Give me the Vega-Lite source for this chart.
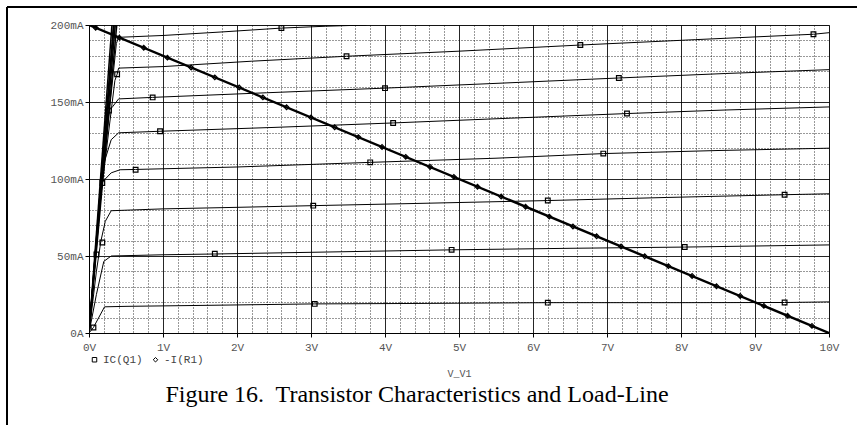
{
  "$schema": "https://vega.github.io/schema/vega-lite/v6.json",
  "width": 740,
  "height": 308,
  "autosize": {"type": "none"},
  "padding": {"left": 89, "top": 25, "right": 28, "bottom": 92},
  "background": "white",
  "config": {"view": {"stroke": "#888", "strokeWidth": 1}},
  "title": {
    "text": "Figure 16.\u00a0 Transistor Characteristics and Load-Line",
    "orient": "bottom",
    "anchor": "middle",
    "font": "Liberation Serif",
    "fontSize": 24,
    "fontWeight": "normal",
    "color": "#000",
    "dx": -42,
    "dy": -43,
    "offset": 0
  },
  "datasets": {
    "curves": [
      {"v": 0, "i": 0, "c": "A"}, {"v": 0.06, "i": 3.6, "c": "A"}, {"v": 0.21, "i": 17, "c": "A"}, {"v": 0.5, "i": 17.3, "c": "A"}, {"v": 1.5, "i": 17.9, "c": "A"}, {"v": 3.05, "i": 18.9, "c": "A"}, {"v": 4.5, "i": 19.2, "c": "A"}, {"v": 6.2, "i": 19.7, "c": "A"}, {"v": 8, "i": 19.7, "c": "A"}, {"v": 9.4, "i": 19.8, "c": "A"}, {"v": 10, "i": 20.2, "c": "A"},
      {"v": 0, "i": 0, "c": "B"}, {"v": 0.1, "i": 25, "c": "B"}, {"v": 0.2, "i": 46.5, "c": "B"}, {"v": 0.3, "i": 50, "c": "B"}, {"v": 1, "i": 50.8, "c": "B"}, {"v": 1.7, "i": 51.3, "c": "B"}, {"v": 3, "i": 52.4, "c": "B"}, {"v": 4.9, "i": 54, "c": "B"}, {"v": 6.5, "i": 55, "c": "B"}, {"v": 8.05, "i": 55.8, "c": "B"}, {"v": 10, "i": 57.2, "c": "B"},
      {"v": 0, "i": 0, "c": "C"}, {"v": 0.1, "i": 40, "c": "C"}, {"v": 0.16, "i": 59.5, "c": "C"}, {"v": 0.22, "i": 72.5, "c": "C"}, {"v": 0.3, "i": 79.4, "c": "C"}, {"v": 1, "i": 80.6, "c": "C"}, {"v": 2, "i": 81.6, "c": "C"}, {"v": 3.03, "i": 82.7, "c": "C"}, {"v": 4.5, "i": 84.2, "c": "C"}, {"v": 6.2, "i": 86, "c": "C"}, {"v": 7.8, "i": 88, "c": "C"}, {"v": 9.4, "i": 89.8, "c": "C"}, {"v": 10, "i": 90.4, "c": "C"},
      {"v": 0, "i": 0, "c": "D"}, {"v": 0.08, "i": 50, "c": "D"}, {"v": 0.16, "i": 97, "c": "D"}, {"v": 0.3, "i": 104, "c": "D"}, {"v": 0.42, "i": 106, "c": "D"}, {"v": 0.63, "i": 106.2, "c": "D"}, {"v": 2, "i": 107.8, "c": "D"}, {"v": 3.8, "i": 110.8, "c": "D"}, {"v": 5.5, "i": 113.5, "c": "D"}, {"v": 6.95, "i": 116.5, "c": "D"}, {"v": 8.5, "i": 118.5, "c": "D"}, {"v": 10, "i": 120, "c": "D"},
      {"v": 0, "i": 0, "c": "E"}, {"v": 0.1, "i": 60, "c": "E"}, {"v": 0.2, "i": 110, "c": "E"}, {"v": 0.3, "i": 125.5, "c": "E"}, {"v": 0.4, "i": 130, "c": "E"}, {"v": 0.96, "i": 131, "c": "E"}, {"v": 2.5, "i": 133.5, "c": "E"}, {"v": 4.11, "i": 136.4, "c": "E"}, {"v": 5.7, "i": 139.5, "c": "E"}, {"v": 7.27, "i": 142.5, "c": "E"}, {"v": 8.6, "i": 144.8, "c": "E"}, {"v": 10, "i": 146.8, "c": "E"},
      {"v": 0, "i": 0, "c": "F"}, {"v": 0.12, "i": 70, "c": "F"}, {"v": 0.27, "i": 144.5, "c": "F"}, {"v": 0.32, "i": 147, "c": "F"}, {"v": 0.4, "i": 152, "c": "F"}, {"v": 0.86, "i": 153, "c": "F"}, {"v": 2.4, "i": 156, "c": "F"}, {"v": 4.0, "i": 159, "c": "F"}, {"v": 5.6, "i": 162.3, "c": "F"}, {"v": 7.16, "i": 165.6, "c": "F"}, {"v": 8.6, "i": 168.5, "c": "F"}, {"v": 10, "i": 171, "c": "F"},
      {"v": 0, "i": 0, "c": "G"}, {"v": 0.15, "i": 85, "c": "G"}, {"v": 0.35, "i": 164, "c": "G"}, {"v": 0.38, "i": 168, "c": "G"}, {"v": 0.4, "i": 172, "c": "G"}, {"v": 1, "i": 173, "c": "G"}, {"v": 2.2, "i": 176.5, "c": "G"}, {"v": 3.48, "i": 179.7, "c": "G"}, {"v": 5, "i": 183, "c": "G"}, {"v": 6.64, "i": 187, "c": "G"}, {"v": 8.2, "i": 190.5, "c": "G"}, {"v": 9.79, "i": 194, "c": "G"}, {"v": 10, "i": 195, "c": "G"},
      {"v": 0, "i": 0, "c": "H"}, {"v": 0.18, "i": 100, "c": "H"}, {"v": 0.37, "i": 188, "c": "H"}, {"v": 0.4, "i": 192, "c": "H"}, {"v": 1, "i": 193.2, "c": "H"}, {"v": 1.8, "i": 195.5, "c": "H"}, {"v": 2.6, "i": 198, "c": "H"}, {"v": 3.2, "i": 199.2, "c": "H"}, {"v": 3.75, "i": 200, "c": "H"}
    ],
    "steep": [
      {"v": 0, "i": 0, "c": "S1"}, {"v": 0.33, "i": 200, "c": "S1"},
      {"v": 0, "i": 0, "c": "S2"}, {"v": 0.355, "i": 200, "c": "S2"},
      {"v": 0, "i": 0, "c": "S3"}, {"v": 0.375, "i": 200, "c": "S3"},
      {"v": 0, "i": 0, "c": "S4"}, {"v": 0.31, "i": 200, "c": "S4"},
      {"v": 0, "i": 0, "c": "S5"}, {"v": 0.34, "i": 200, "c": "S5"}
    ],
    "load": [
      {"v": 0, "i": 200}, {"v": 10, "i": 0}
    ],
    "markers": [
      {"v": 0.06, "i": 3.6, "s": "IC(Q1)"}, {"v": 3.05, "i": 18.9, "s": "IC(Q1)"}, {"v": 6.2, "i": 19.7, "s": "IC(Q1)"}, {"v": 9.4, "i": 19.8, "s": "IC(Q1)"},
      {"v": 0.1, "i": 51, "s": "IC(Q1)"}, {"v": 1.7, "i": 51.5, "s": "IC(Q1)"}, {"v": 4.9, "i": 54, "s": "IC(Q1)"}, {"v": 8.05, "i": 55.8, "s": "IC(Q1)"},
      {"v": 0.18, "i": 58.8, "s": "IC(Q1)"}, {"v": 3.03, "i": 82.7, "s": "IC(Q1)"}, {"v": 6.2, "i": 86, "s": "IC(Q1)"}, {"v": 9.4, "i": 89.8, "s": "IC(Q1)"},
      {"v": 0.18, "i": 97.4, "s": "IC(Q1)"}, {"v": 0.63, "i": 106, "s": "IC(Q1)"}, {"v": 3.8, "i": 110.8, "s": "IC(Q1)"}, {"v": 6.95, "i": 116.5, "s": "IC(Q1)"},
      {"v": 0.96, "i": 131, "s": "IC(Q1)"}, {"v": 4.11, "i": 136.4, "s": "IC(Q1)"}, {"v": 7.27, "i": 142.5, "s": "IC(Q1)"},
      {"v": 0.27, "i": 144.5, "s": "IC(Q1)"}, {"v": 0.86, "i": 153, "s": "IC(Q1)"}, {"v": 4.0, "i": 159, "s": "IC(Q1)"}, {"v": 7.16, "i": 165.6, "s": "IC(Q1)"},
      {"v": 0.38, "i": 168, "s": "IC(Q1)"}, {"v": 3.48, "i": 179.7, "s": "IC(Q1)"}, {"v": 6.64, "i": 187, "s": "IC(Q1)"}, {"v": 9.79, "i": 194, "s": "IC(Q1)"},
      {"v": 2.6, "i": 198, "s": "IC(Q1)"},
      {"v": 0.09, "i": 198.2, "s": "-I(R1)"}, {"v": 0.41, "i": 191.8, "s": "-I(R1)"}, {"v": 0.74, "i": 185.2, "s": "-I(R1)"}, {"v": 1.06, "i": 178.8, "s": "-I(R1)"}, {"v": 1.38, "i": 172.4, "s": "-I(R1)"}, {"v": 1.7, "i": 166, "s": "-I(R1)"}, {"v": 2.03, "i": 159.4, "s": "-I(R1)"}, {"v": 2.35, "i": 153, "s": "-I(R1)"}, {"v": 2.67, "i": 146.6, "s": "-I(R1)"}, {"v": 3.0, "i": 140, "s": "-I(R1)"}, {"v": 3.32, "i": 133.6, "s": "-I(R1)"}, {"v": 3.64, "i": 127.2, "s": "-I(R1)"}, {"v": 3.96, "i": 120.8, "s": "-I(R1)"}, {"v": 4.28, "i": 114.4, "s": "-I(R1)"}, {"v": 4.61, "i": 107.8, "s": "-I(R1)"}, {"v": 4.93, "i": 101.4, "s": "-I(R1)"}, {"v": 5.25, "i": 95, "s": "-I(R1)"}, {"v": 5.57, "i": 88.6, "s": "-I(R1)"}, {"v": 5.9, "i": 82, "s": "-I(R1)"}, {"v": 6.22, "i": 75.6, "s": "-I(R1)"}, {"v": 6.54, "i": 69.2, "s": "-I(R1)"}, {"v": 6.86, "i": 62.8, "s": "-I(R1)"}, {"v": 7.19, "i": 56.2, "s": "-I(R1)"}, {"v": 7.51, "i": 49.8, "s": "-I(R1)"}, {"v": 7.83, "i": 43.4, "s": "-I(R1)"}, {"v": 8.15, "i": 37, "s": "-I(R1)"}, {"v": 8.48, "i": 30.4, "s": "-I(R1)"}, {"v": 8.8, "i": 24, "s": "-I(R1)"}, {"v": 9.12, "i": 17.6, "s": "-I(R1)"}, {"v": 9.44, "i": 11.2, "s": "-I(R1)"}, {"v": 9.77, "i": 4.6, "s": "-I(R1)"}
    ],
    "frame": [
      {"bx": 0, "bx2": 1, "by": 1, "by2": 1},
      {"bx": 0, "bx2": 0, "by": 0, "by2": 1}
    ]
  },
  "layer": [
    {
      "layer": [
        {
          "data": {"name": "curves"},
          "mark": {"type": "line", "color": "#000", "strokeWidth": 1, "clip": true},
          "encoding": {
            "x": {
              "field": "v", "type": "quantitative",
              "scale": {"domain": [0, 10], "nice": false, "zero": false},
              "axis": {
                "values": [0,0.2,0.4,0.6,0.8,1,1.2,1.4,1.6,1.8,2,2.2,2.4,2.6,2.8,3,3.2,3.4,3.6,3.8,4,4.2,4.4,4.6,4.8,5,5.2,5.4,5.6,5.8,6,6.2,6.4,6.6,6.8,7,7.2,7.4,7.6,7.8,8,8.2,8.4,8.6,8.8,9,9.2,9.4,9.6,9.8,10],
                "tickCount": 100,
                "grid": true,
                "gridColor": "#000",
                "gridWidth": 1,
                "gridDash": {"condition": {"test": "abs(datum.value - round(datum.value)) < 0.001", "value": []}, "value": [1, 2]},
                "gridOpacity": {"condition": {"test": "abs(datum.value - round(datum.value)) < 0.001", "value": 0.85}, "value": 0.8},
                "ticks": true,
                "tickColor": "#000",
                "tickSize": 4,
                "tickOpacity": {"condition": {"test": "abs(datum.value - round(datum.value)) < 0.001", "value": 1}, "value": 0},
                "domainColor": "#000",
                "domainWidth": 1,
                "labelExpr": "abs(datum.value - round(datum.value)) < 0.001 ? round(datum.value) + 'V' : ''",
                "labelFont": "Liberation Mono",
                "labelFontSize": 11,
                "labelColor": "#555",
                "labelPadding": 4,
                "labelFlush": false,
                "labelOverlap": false,
                "title": "V_V1",
                "titleFont": "Liberation Mono",
                "titleFontSize": 10,
                "titleFontWeight": "normal",
                "titleColor": "#555",
                "titleY": 40,
                "titleBaseline": "middle"
              }
            },
            "y": {
              "field": "i", "type": "quantitative",
              "scale": {"domain": [0, 200], "nice": false},
              "axis": {
                "values": [0,10,20,30,40,50,60,70,80,90,100,110,120,130,140,150,160,170,180,190,200],
                "tickCount": 100,
                "grid": true,
                "gridColor": "#000",
                "gridWidth": 1,
                "gridDash": {"condition": {"test": "datum.value % 50 === 0", "value": []}, "value": [1, 2]},
                "gridOpacity": {"condition": {"test": "datum.value % 50 === 0", "value": 0.85}, "value": 0.8},
                "tickColor": "#000",
                "tickSize": 4,
                "tickOpacity": {"condition": {"test": "datum.value % 50 === 0", "value": 1}, "value": 0},
                "domainColor": "#000",
                "labelExpr": "datum.value % 50 === 0 ? (datum.value === 0 ? '0A' : datum.value + 'mA') : ''",
                "labelFont": "Liberation Mono",
                "labelFontSize": 11,
                "labelColor": "#555",
                "labelPadding": 2,
                "labelFlush": false,
                "labelOverlap": false,
                "title": null
              }
            },
            "detail": {"field": "c", "type": "nominal"}
          }
        },
        {
          "data": {"name": "steep"},
          "mark": {"type": "line", "color": "#000", "strokeWidth": 1.5, "clip": true},
          "encoding": {
            "x": {"field": "v", "type": "quantitative"},
            "y": {"field": "i", "type": "quantitative"},
            "detail": {"field": "c", "type": "nominal"}
          }
        },
        {
          "data": {"name": "load"},
          "mark": {"type": "line", "color": "#000", "strokeWidth": 2.4, "clip": true},
          "encoding": {
            "x": {"field": "v", "type": "quantitative"},
            "y": {"field": "i", "type": "quantitative"}
          }
        },
        {
          "data": {"name": "markers"},
          "mark": {"type": "point", "filled": false, "color": "#000", "strokeWidth": 1.2, "size": 22, "opacity": 1, "clip": true},
          "encoding": {
            "x": {"field": "v", "type": "quantitative"},
            "y": {"field": "i", "type": "quantitative"},
            "shape": {
              "field": "s", "type": "nominal",
              "scale": {"domain": ["IC(Q1)", "-I(R1)"], "range": ["square", "diamond"]},
              "legend": {
                "title": null,
                "orient": "none",
                "direction": "horizontal",
                "legendX": 0,
                "legendY": 329,
                "padding": 0,
                "columnPadding": 7,
                "symbolSize": 20,
                "symbolStrokeColor": "#000",
                "symbolFillColor": "transparent",
                "symbolStrokeWidth": 1,
                "labelFont": "Liberation Mono",
                "labelFontSize": 11,
                "labelColor": "#444",
                "labelOffset": 3
              }
            }
          }
        }
      ]
    },
    {
      "data": {"name": "frame"},
      "mark": {"type": "rule", "color": "#000", "strokeWidth": 2},
      "encoding": {
        "x": {
          "field": "bx", "type": "quantitative",
          "scale": {"domain": [0, 1], "range": [-82, 768], "nice": false},
          "axis": null
        },
        "x2": {"field": "bx2"},
        "y": {
          "field": "by", "type": "quantitative",
          "scale": {"domain": [0, 1], "range": [400, -18], "nice": false},
          "axis": null
        },
        "y2": {"field": "by2"}
      }
    }
  ],
  "resolve": {"scale": {"x": "independent", "y": "independent"}, "axis": {"x": "independent", "y": "independent"}}
}
